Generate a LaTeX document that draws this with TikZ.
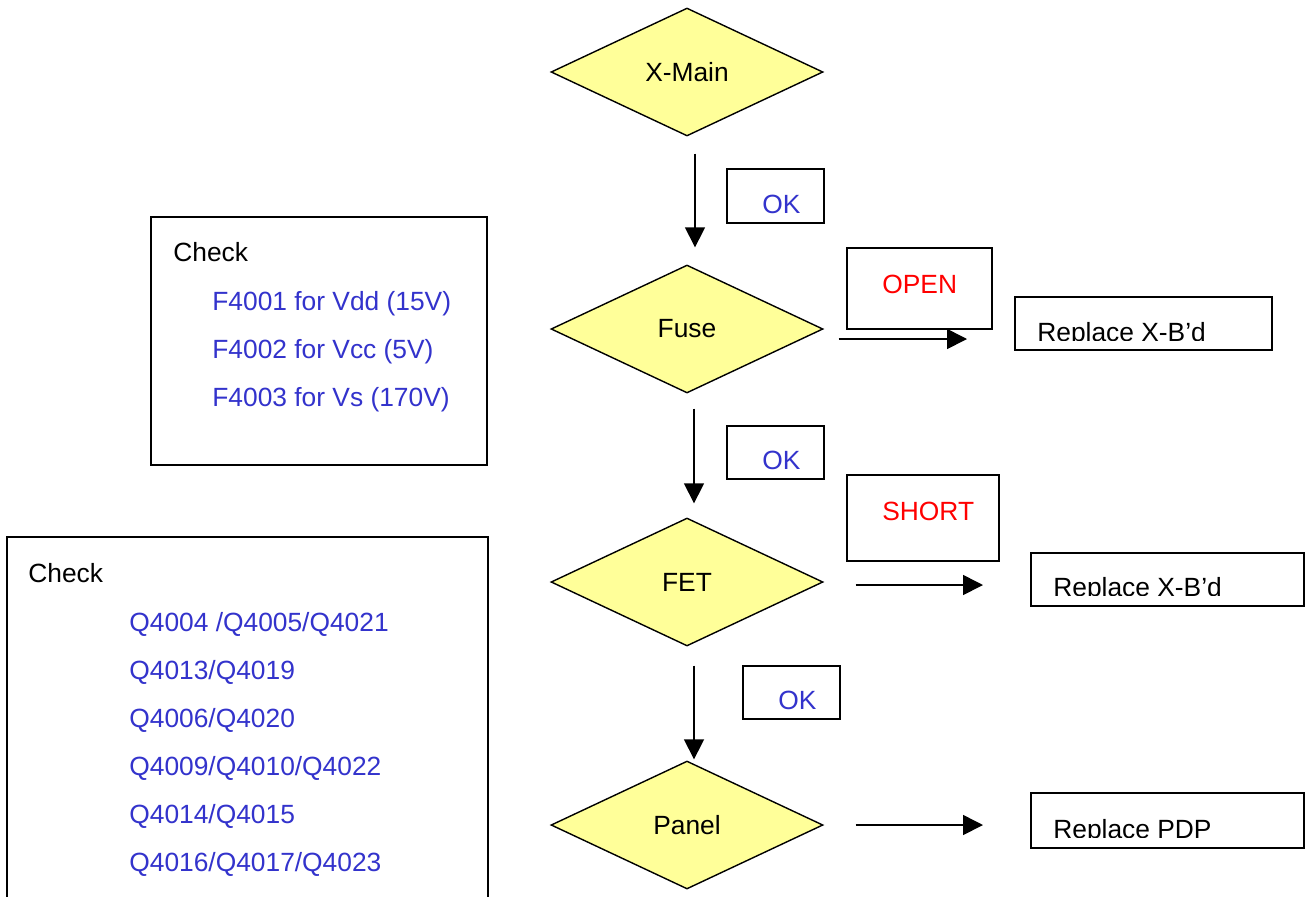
\documentclass[tikz,border=0pt]{standalone}
\usepackage{fontspec}
\setmainfont{Liberation Sans}
\usetikzlibrary{shapes.geometric,arrows.meta,calc}
\definecolor{dyellow}{HTML}{FFFF99}
\definecolor{tblue}{HTML}{3333CC}
\definecolor{tred}{HTML}{FF0000}
\begin{document}
\begin{tikzpicture}[x=0.02cm,y=-0.02cm,
  font=\fontsize{15}{18}\selectfont,
  dec/.style={diamond, draw=black, line width=0.8pt, fill=dyellow, minimum width=5.44cm, minimum height=2.56cm, inner sep=0pt},
  box/.style={draw=black, line width=1.2pt, inner sep=0pt, outer sep=0pt, anchor=north west},
  txt/.style={anchor=base west, inner sep=0pt},
  arr/.style={line width=0.9pt, -{Triangle[length=0.4cm,width=0.4cm]}}]
\useasboundingbox (0,0) rectangle (1310,896);
\fill[white] (0,0) rectangle (1310,896);

% decisions
\node[dec] (xmain) at (687,72) {X-Main};
\node[dec] (fuse) at (687,329) {Fuse};
\node[dec] (fet) at (687,582) {FET};
\node[dec] (panel) at (687,825) {Panel};

% OK boxes
\node[box, minimum width=1.94cm, minimum height=1.08cm] (ok1) at (727,169) {};
\node[txt, text=tblue] (ok1t) at (762,213) {OK};
\node[box, minimum width=1.94cm, minimum height=1.06cm] (ok2) at (727,426) {};
\node[txt, text=tblue] (ok2t) at (762,469) {OK};
\node[box, minimum width=1.94cm, minimum height=1.06cm] (ok3) at (743,666) {};
\node[txt, text=tblue] (ok3t) at (778,709) {OK};

% OPEN / SHORT boxes
\node[box, minimum width=2.9cm, minimum height=1.62cm] (open) at (847,248) {};
\node[txt, text=tred] (opent) at (882,293) {OPEN};
\node[box, minimum width=3.04cm, minimum height=1.72cm] (short) at (847,475) {};
\node[txt, text=tred] (shortt) at (882,520) {SHORT};

% Replace boxes (text clipped inside the box)
\node[box, minimum width=5.14cm, minimum height=1.06cm] (rep1) at (1015,297) {};
\begin{scope}
  \clip (1015,297) rectangle (1272,340);
  \node[txt] (rep1t) at (1037,341) {Replace X-B’d};
\end{scope}
\node[box, minimum width=5.46cm, minimum height=1.06cm] (rep2) at (1031,553) {};
\begin{scope}
  \clip (1031,553) rectangle (1304,595);
  \node[txt] (rep2t) at (1053,596) {Replace X-B’d};
\end{scope}
\node[box, minimum width=5.46cm, minimum height=1.10cm] (rep3) at (1031,793) {};
\begin{scope}
  \clip (1031,793) rectangle (1304,837);
  \node[txt] (rep3t) at (1053,838) {Replace PDP};
\end{scope}

% Check boxes
\node[box, minimum width=6.72cm, minimum height=4.96cm] (chk1) at (151,217) {};
\node[txt] (chk1h) at (173,261) {Check};
\node[txt, text=tblue] at (212,310) {F4001 for Vdd (15V)};
\node[txt, text=tblue] at (212,358) {F4002 for Vcc (5V)};
\node[txt, text=tblue] at (212,406) {F4003 for Vs (170V)};

\node[box, minimum width=9.62cm, minimum height=7.8cm] (chk2) at (7,537) {};
\node[txt] (chk2h) at (28,582) {Check};
\node[txt, text=tblue] at (129,631) {Q4004 /Q4005/Q4021};
\node[txt, text=tblue] at (129,679) {Q4013/Q4019};
\node[txt, text=tblue] at (129,727) {Q4006/Q4020};
\node[txt, text=tblue] at (129,775) {Q4009/Q4010/Q4022};
\node[txt, text=tblue] at (129,823) {Q4014/Q4015};
\node[txt, text=tblue] at (129,871) {Q4016/Q4017/Q4023};

% vertical arrows
\draw[arr] ($(xmain.south)+(8,17)$) -- ($(fuse.north)+(8,-17)$);
\draw[arr] ($(fuse.south)+(7,15)$) -- ($(fet.north)+(7,-14)$);
\draw[arr] ($(fet.south)+(7,19)$) -- ($(panel.north)+(7,-1)$);

% horizontal arrows
\coordinate (s1) at ($(fuse.east)+(15,10)$);
\coordinate (e1) at ($(rep1.west)+(-48,0)$);
\draw[arr] (s1) -- (s1 -| e1);
\coordinate (s2) at ($(fet.east)+(32,3)$);
\coordinate (e2) at ($(rep2.west)+(-48,0)$);
\draw[arr] (s2) -- (s2 -| e2);
\coordinate (s3) at ($(panel.east)+(32,0)$);
\coordinate (e3) at ($(rep3.west)+(-48,0)$);
\draw[arr] (s3) -- (s3 -| e3);
\end{tikzpicture}
\end{document}
